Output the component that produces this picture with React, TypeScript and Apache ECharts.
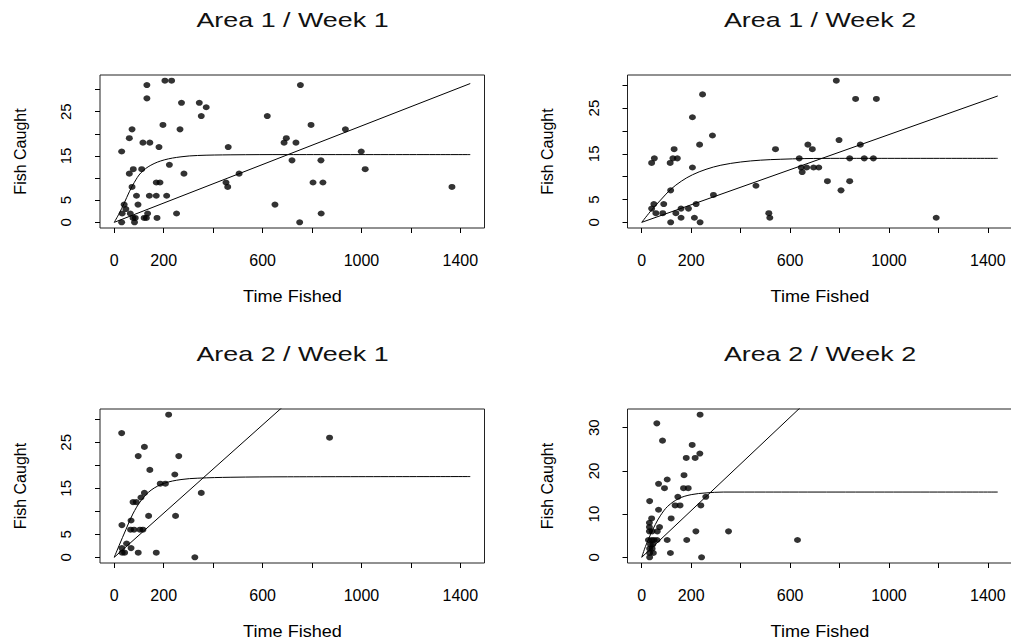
import React, { useEffect, useRef } from "react";
import * as echarts from "echarts";

const FONT = '"Liberation Sans", Arial, Helvetica, sans-serif';

// Tick values
const xTicks = [0, 200, 400, 600, 800, 1000, 1200, 1400];
const xLabels = [0, 200, 600, 1000, 1400];
const yTicks5 = [0, 5, 10, 15, 20, 25, 30];
const yLabels5 = [0, 5, 15, 25];
const yTicks10 = [0, 10, 20, 30];

const titles = ["Area 1 / Week 1", "Area 1 / Week 2", "Area 2 / Week 1", "Area 2 / Week 2"];

// Area 1 / Week 1 : [time fished, fish caught]
const a1w1Points = [
  [205, 32], [232, 32], [132, 31], [132, 28], [272, 27], [344, 27], [372, 26], [352, 24],
  [197, 22], [72, 21], [266, 21], [61, 19], [116, 18], [144, 18], [181, 17], [30, 16],
  [461, 17], [223, 13], [77, 12], [111, 12], [61, 11], [282, 11], [170, 9], [185, 9],
  [72, 8], [90, 6], [142, 6], [170, 6], [212, 6], [96, 4], [40, 4], [47, 3],
  [32, 2], [65, 2], [135, 2], [252, 2], [76, 1], [85, 1], [121, 1], [130, 1],
  [173, 1], [30, 0], [82, 0], [452, 9], [459, 8], [505, 11], [619, 24], [650, 4],
  [687, 18], [696, 19], [719, 14], [735, 18], [753, 31], [750, 0], [796, 22], [804, 9],
  [836, 14], [837, 2], [844, 9], [935, 21], [999, 16], [1015, 12], [1366, 8],
];
const a1w1Curve = [
  [0, 0], [20, 2.0], [40, 4.3], [61, 6.9], [81, 9.0], [108, 11.2], [148, 12.9], [202, 14.1],
  [270, 14.8], [337, 15.1], [472, 15.25], [700, 15.3], [1440, 15.3],
];
const a1w1Line = [[0, 0], [1440, 31.35]];

// Area 1 / Week 2
const a1w2Points = [
  [246, 28], [205, 23], [286, 19], [234, 17], [131, 16], [40, 13], [51, 14], [115, 13],
  [126, 14], [144, 14], [205, 12], [541, 16], [117, 7], [290, 6], [462, 8], [40, 3],
  [49, 4], [57, 2], [89, 4], [85, 2], [138, 2], [159, 3], [189, 3], [220, 4],
  [159, 1], [213, 1], [117, 0], [236, 0], [514, 2], [518, 1],
  [637, 14], [645, 12], [649, 11], [667, 12], [672, 17], [690, 16], [695, 12], [716, 12],
  [751, 9], [787, 31], [798, 18], [806, 7], [841, 14], [841, 9], [865, 27], [884, 17],
  [900, 14], [937, 14], [949, 27], [1191, 1],
];
const a1w2Curve = [
  [0, 0], [40, 2.7], [80, 5.1], [117, 7.2], [160, 9.0], [205, 10.4], [260, 11.6], [320, 12.5],
  [400, 13.2], [480, 13.6], [560, 13.8], [660, 13.95], [800, 14.0], [1440, 14.0],
];
const a1w2Line = [[0, 0], [1440, 27.65]];

// Area 2 / Week 1
const a2w1Points = [
  [220, 31], [30, 27], [871, 26], [122, 24], [97, 22], [261, 22], [144, 19], [245, 18],
  [186, 16], [207, 16], [352, 14], [122, 14], [108, 13], [76, 12], [89, 12], [139, 9],
  [248, 9], [68, 8], [31, 7], [66, 6], [80, 6], [104, 6], [116, 6], [50, 3],
  [31, 2], [68, 2], [32, 1], [42, 1], [97, 1], [170, 1], [326, 0],
];
const a2w1Curve = [
  [0, 0], [20, 2.6], [47, 6.0], [75, 9.4], [108, 12.3], [149, 14.6], [203, 16.1], [270, 16.9],
  [338, 17.2], [472, 17.4], [700, 17.5], [1440, 17.55],
];
const a2w1Line = [[0, 0], [1440, 69.1]];

// Area 2 / Week 2
const a2w2Points = [
  [236, 33], [61, 31], [84, 27], [204, 26], [180, 23], [216, 23], [235, 24], [171, 19],
  [68, 17], [103, 18], [92, 16], [169, 16], [188, 16], [32, 13], [146, 14], [259, 14],
  [135, 12], [155, 12], [239, 12], [68, 11], [40, 9], [119, 9], [31, 8], [31, 7],
  [72, 7], [31, 6], [42, 6], [63, 6], [219, 6], [351, 6], [27, 4], [40, 4],
  [50, 4], [62, 4], [103, 4], [182, 4], [630, 4], [35, 3], [45, 3], [32, 2],
  [42, 2], [32, 1], [47, 1], [116, 1], [32, 0], [242, 0],
];
const a2w2Curve = [
  [0, 0], [15, 2.5], [35, 5.2], [55, 7.6], [75, 9.6], [105, 11.8], [150, 13.6], [200, 14.5],
  [260, 14.9], [330, 15.1], [500, 15.1], [1440, 15.1],
];
const a2w2Line = [[0, 0], [1440, 77.8]];

const pointSets = [a1w1Points, a1w2Points, a2w1Points, a2w2Points];
const curveSets = [a1w1Curve, a1w2Curve, a2w1Curve, a2w2Curve];
const lineSets = [a1w1Line, a1w2Line, a2w1Line, a2w2Line];
const yMaxData = [32, 31, 31, 33];
const yTickSets = [yTicks5, yTicks5, yTicks5, yTicks10];
const yLabelSets = [yLabels5, yLabels5, yLabels5, yTicks10];

// layout (pixels)
const gridLefts = [100, 627.5, 100, 627.5];
const gridTops = [75, 75, 409, 409];
const gridW = 384.5;
const gridHs = [153, 153, 154, 154];

export default function App() {
  const ref = useRef<HTMLDivElement>(null);
  useEffect(() => {
    if (!ref.current) return;
    const chart = echarts.init(ref.current, null, { renderer: "svg" });
    const grids: any[] = [];
    const xAxes: any[] = [];
    const yAxes: any[] = [];
    const series: any[] = [];
    const graphic: any[] = [];
    const fmt = (v: number) => String(v);
    for (let i = 0; i < 4; i++) {
      grids.push({
        left: gridLefts[i], top: gridTops[i], width: gridW, height: gridHs[i],
        show: true, borderColor: "#222", borderWidth: 1, backgroundColor: "transparent",
        outerBoundsMode: "none", containLabel: false,
      });
      xAxes.push({
        type: "value", gridIndex: i, min: -57.6, max: 1497.6,
        axisLine: { show: false, onZero: false },
        axisTick: { show: true, customValues: xTicks, length: 5, lineStyle: { color: "#000" } },
        axisLabel: { customValues: xLabels, formatter: fmt, fontSize: 16, color: "#000", fontFamily: FONT, margin: 24 },
        splitLine: { show: false },
      });
      const pad = yMaxData[i] * 0.04;
      yAxes.push({
        type: "value", gridIndex: i, min: -pad, max: yMaxData[i] + pad,
        axisLine: { show: false, onZero: false },
        axisTick: { show: true, customValues: yTickSets[i], length: 5, lineStyle: { color: "#000" } },
        axisLabel: { customValues: yLabelSets[i], formatter: fmt, rotate: 90, fontSize: 15, color: "#000", fontFamily: FONT, margin: 27 },
        splitLine: { show: false },
      });
      series.push({
        type: "scatter", xAxisIndex: i, yAxisIndex: i, data: pointSets[i],
        symbol: "circle", symbolSize: [7, 6], itemStyle: { color: "#000" }, silent: true,
      });
      series.push({
        type: "line", xAxisIndex: i, yAxisIndex: i, data: curveSets[i], showSymbol: false,
        smooth: 0.35, lineStyle: { color: "#000", width: 1 }, clip: true, silent: true,
      });
      series.push({
        type: "line", xAxisIndex: i, yAxisIndex: i, data: lineSets[i], showSymbol: false,
        lineStyle: { color: "#000", width: 1 }, clip: true, silent: true,
      });
      const cx = gridLefts[i] + 192.5;
      const cy = gridTops[i] + gridHs[i] / 2;
      graphic.push({
        type: "text", x: cx, y: gridTops[i] - 55, scaleX: 1.28,
        style: { text: titles[i], fontSize: 21, fontWeight: "normal", fontFamily: FONT, fill: "#111", textAlign: "center", textVerticalAlign: "middle" },
      });
      graphic.push({
        type: "text", x: cx, y: gridTops[i] + gridHs[i] + 69, scaleX: 1.13,
        style: { text: "Time Fished", fontSize: 16, fontWeight: "normal", fontFamily: FONT, fill: "#000", textAlign: "center", textVerticalAlign: "middle" },
      });
      graphic.push({
        type: "text", x: gridLefts[i] - 80, y: cy, rotation: Math.PI / 2,
        style: { text: "Fish Caught", fontSize: 16, fontWeight: "normal", fontFamily: FONT, fill: "#000", textAlign: "center", textVerticalAlign: "middle" },
      });
    }
    chart.setOption({
      animation: false,
      backgroundColor: "#fff",
      grid: grids,
      xAxis: xAxes,
      yAxis: yAxes,
      series,
      graphic,
    });
    return () => chart.dispose();
  }, []);
  return (
    <div style={{ position: "fixed", left: 0, top: 0, width: 1011, height: 644, overflow: "hidden", background: "#fff" }}>
      <div ref={ref} style={{ width: 1020, height: 644 }} />
    </div>
  );
}
